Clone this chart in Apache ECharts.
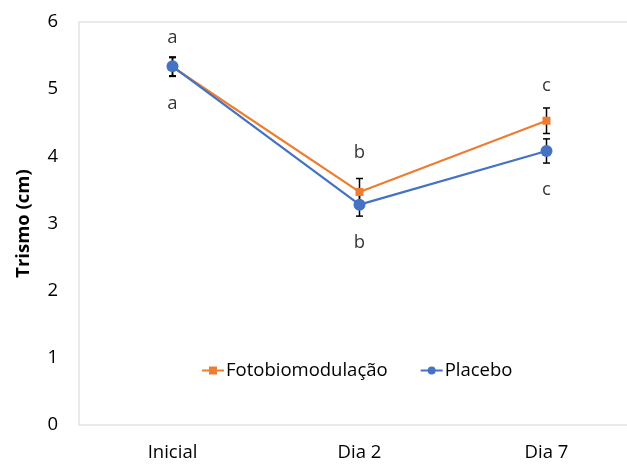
<!DOCTYPE html>
<html>
<head>
<meta charset="utf-8">
<script src="https://cdn.jsdelivr.net/npm/echarts@6/dist/echarts.min.js"></script>
<style>
html,body{margin:0;padding:0;background:#fff;}
#chart{width:627px;height:464px;}
</style>
</head>
<body>
<div id="chart"></div>
<script>
// Trismus over time, two groups, mean ± error
const categories = ['Inicial', 'Dia 2', 'Dia 7'];
const yTicks = [0, 1, 2, 3, 4, 5, 6];

const fotoValues = [5.33, 3.47, 4.53];
const fotoErrors = [0.14, 0.20, 0.19];
const placeboValues = [5.34, 3.28, 4.08];
const placeboErrors = [0.14, 0.17, 0.18];

// significance letters above and below each time point
const lettersTop = ['a', 'b', 'c'];
const lettersTopY = [5.77, 4.05, 5.05];
const lettersBottom = ['a', 'b', 'c'];
const lettersBottomY = [4.79, 2.72, 3.50];

const ORANGE = '#ED7D31';
const BLUE = '#4472C4';
const TEXT = '#000000';
const FONT = '"Open Sans", "Noto Sans", sans-serif';
const FS = 18.5;

function errorSeries(name, values, errors) {
  return {
    type: 'custom',
    name: name + ' erro',
    z: 1,
    silent: true,
    data: values.map((v, i) => [i, v - errors[i], v + errors[i]]),
    renderItem: function (params, api) {
      const lo = api.coord([api.value(0), api.value(1)]);
      const hi = api.coord([api.value(0), api.value(2)]);
      const cap = 3.5;
      const style = { stroke: '#000', lineWidth: 1.5, fill: null };
      return {
        type: 'group',
        children: [
          { type: 'line', shape: { x1: lo[0], y1: lo[1], x2: hi[0], y2: hi[1] }, style: style },
          { type: 'line', shape: { x1: lo[0] - cap, y1: lo[1], x2: lo[0] + cap, y2: lo[1] }, style: style },
          { type: 'line', shape: { x1: hi[0] - cap, y1: hi[1], x2: hi[0] + cap, y2: hi[1] }, style: style }
        ]
      };
    }
  };
}

function letterSeries(letters, ys) {
  return {
    type: 'scatter',
    silent: true,
    symbolSize: 0,
    z: 5,
    data: letters.map((t, i) => ({ value: [i, ys[i]], name: t })),
    label: {
      show: true,
      position: 'inside',
      formatter: p => p.name,
      color: TEXT,
      fontSize: FS,
      fontFamily: FONT
    }
  };
}

const chart = echarts.init(document.getElementById('chart'));
chart.setOption({
  animation: false,
  backgroundColor: '#fff',
  grid: {
    left: 79, width: 561, top: 22, bottom: 39,
    outerBoundsMode: 'none',
    containLabel: false,
    show: true, borderColor: '#e3e3e3', borderWidth: 1.5, backgroundColor: 'transparent'
  },
  legend: {
    data: ['Fotobiomodulação', 'Placebo'],
    left: 196, top: 356,
    itemWidth: 22, itemHeight: 10, itemGap: 32,
    textStyle: { color: TEXT, fontSize: FS, fontFamily: FONT, padding: [0, 0, 0, -3] }
  },
  xAxis: {
    type: 'category',
    data: categories,
    boundaryGap: true,
    axisLine: { show: false },
    axisTick: { show: false },
    axisLabel: { color: TEXT, fontSize: FS, fontFamily: FONT, margin: 18 }
  },
  yAxis: {
    type: 'value',
    min: yTicks[0], max: yTicks[yTicks.length - 1], interval: 1,
    name: 'Trismo (cm)',
    nameLocation: 'middle',
    nameGap: 46,
    nameRotate: 90,
    nameTextStyle: { color: TEXT, fontSize: FS, fontWeight: 'bold', fontFamily: FONT },
    axisLine: { show: false },
    axisTick: { show: false },
    splitLine: { show: false },
    axisLabel: { color: TEXT, fontSize: FS, fontFamily: FONT, margin: 21 }
  },
  series: [
    errorSeries('Fotobiomodulação', fotoValues, fotoErrors),
    errorSeries('Placebo', placeboValues, placeboErrors),
    {
      name: 'Fotobiomodulação',
      type: 'line',
      z: 2,
      data: fotoValues,
      symbol: 'rect',
      symbolSize: 8,
      itemStyle: { color: ORANGE },
      lineStyle: { color: ORANGE, width: 2.25 }
    },
    {
      name: 'Placebo',
      type: 'line',
      z: 3,
      data: placeboValues,
      symbol: 'circle',
      symbolSize: 12,
      itemStyle: { color: BLUE },
      lineStyle: { color: BLUE, width: 2.25 }
    },
    letterSeries(lettersTop, lettersTopY),
    letterSeries(lettersBottom, lettersBottomY)
  ]
});
</script>
</body>
</html>
